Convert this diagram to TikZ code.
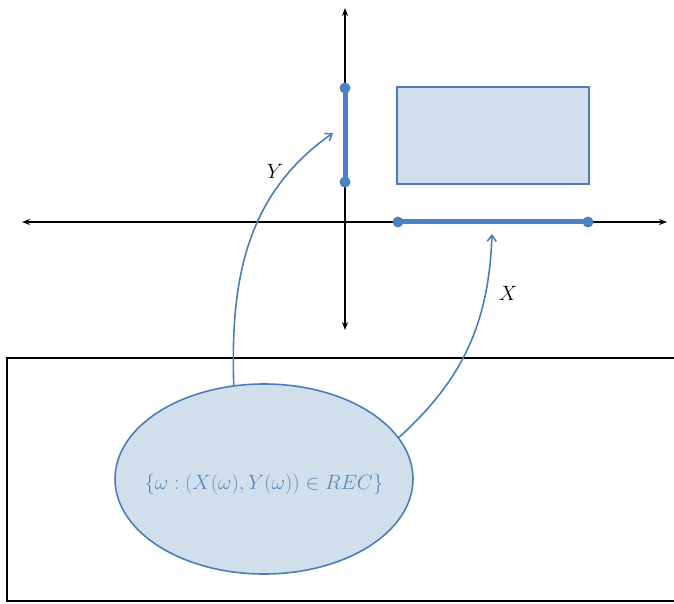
\documentclass[tikz,border=0pt]{standalone}
\usetikzlibrary{arrows.meta,shapes.geometric}
\definecolor{blueline}{RGB}{74,126,187}
\definecolor{bluethick}{RGB}{73,131,192}
\definecolor{bluefill}{RGB}{209,223,236}
\definecolor{bluetext}{RGB}{88,138,190}
\tikzset{
  axis/.style={black,line width=1.5pt,{Stealth[length=8pt,width=6pt]}-{Stealth[length=8pt,width=6pt]}},
  seg/.style={bluethick,line width=5pt},
  dot/.style={circle,fill=bluethick,inner sep=0pt,minimum size=11pt},
  maparrow/.style={blueline,line width=1.6pt,-{Straight Barb[length=6pt,width=9pt]}},
  lab/.style={font=\fontsize{20}{24}\selectfont},
}
\begin{document}
\begin{tikzpicture}[x=1pt,y=1pt]
\useasboundingbox (0,0) rectangle (674,603);
% sample space box
\draw[black,line width=2pt] (680,2) -- (7,2) -- (7,245) -- (680,245);
% axes
\coordinate (hl) at (22,381);
\coordinate (hr) at (667,381);
\coordinate (vt) at (345,595);
\coordinate (vb) at (345,273);
\draw[axis] (hl) -- (hr);
\draw[axis] (vb) -- (vt);
% rectangle REC
\node[draw=blueline,fill=bluefill,line width=1.3pt,minimum width=192pt,minimum height=97pt,inner sep=0pt] (rec) at (493,467.5) {};
% Y interval
\node[dot] (y1) at (345,515) {};
\node[dot] (y2) at (345,421) {};
\draw[seg] (y1.center) -- (y2.center);
% X interval
\node[dot] (x1) at (398,381) {};
\node[dot] (x2) at (588,381) {};
\draw[seg] (x1.center) -- (x2.center);
% event ellipse
\node[ellipse,draw=blueline,fill=bluefill,line width=1.6pt,minimum width=298pt,minimum height=190pt,inner sep=0pt,outer sep=0pt] (ell) at (264,124) {};
\node[text=bluetext,font=\fontsize{20}{24}\selectfont,inner sep=0pt] (evt) at (264,119) {$\{\omega:(X(\omega),Y(\omega))\in REC\}$};
% mapping arrows
\coordinate (ytip) at (333,470);
\coordinate (xtip) at (492,369);
\draw[maparrow] (ell.108) to[out=92,in=215] (ytip);
\draw[maparrow] (ell.17) to[out=42,in=268] (xtip);
\node[lab] (ylab) at (275,432) {$Y$};
\node[lab] (xlab) at (508,310) {$X$};
\end{tikzpicture}
\end{document}
